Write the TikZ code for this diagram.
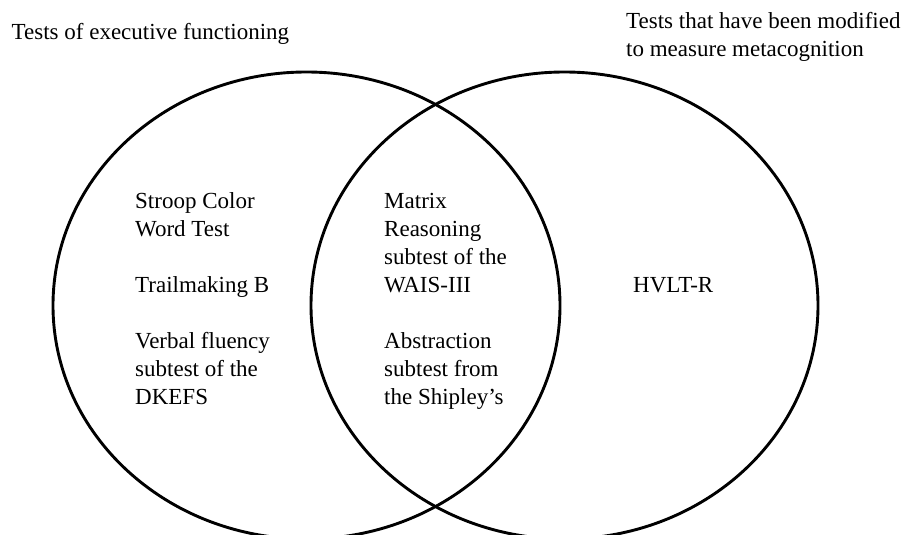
\documentclass[tikz,border=0pt]{standalone}
\usepackage{fontspec}
\setmainfont{Liberation Serif}
\begin{document}
\begin{tikzpicture}[x=1pt,y=-1pt,
  venn/.style={line width=2.9pt, draw=black},
  lbl/.style={font=\fontsize{23}{28.1}\selectfont, inner sep=0pt, anchor=base west, align=left}]
\useasboundingbox (0,0) rectangle (905,535);
\clip (0,0) rectangle (905,535);
\draw[venn] (306.5,305.5) ellipse [x radius=253.5pt, y radius=233.5pt];
\draw[venn] (564.5,305.5) ellipse [x radius=253.5pt, y radius=233.5pt];
% multi-line nodes: base anchor = baseline of the last line
\node[lbl] (titleL) at (11.5,40) {Tests of executive functioning};
\node[lbl] (titleR) at (626,56.5) {Tests that have been modified\\to measure metacognition};
\node[lbl] (stroop) at (135,236.1) {Stroop Color\\Word Test};
\node[lbl] (trail) at (135,292.3) {Trailmaking B};
\node[lbl] (verbal) at (135,404.6) {Verbal fluency\\subtest of the\\DKEFS};
\node[lbl] (matrix) at (384,292.3) {Matrix\\Reasoning\\subtest of the\\WAIS-III};
\node[lbl] (abstr) at (384,404.6) {Abstraction\\subtest from\\the Shipley’s};
\node[lbl] (hvlt) at (633,292.3) {HVLT-R};
\end{tikzpicture}
\end{document}
